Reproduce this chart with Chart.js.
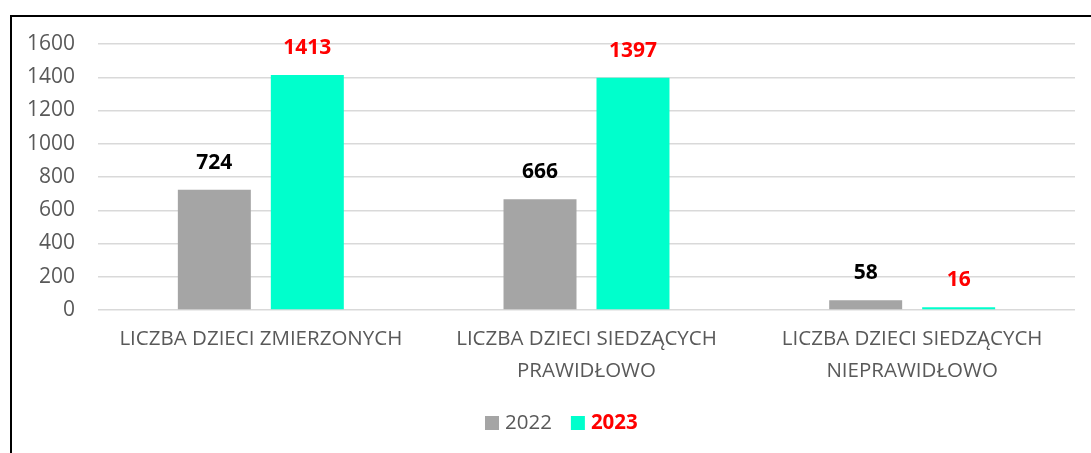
<!DOCTYPE html>
<html lang="pl">
<head>
  <meta charset="UTF-8" />
  <title>Foteliki</title>
  <script src="https://cdn.jsdelivr.net/npm/chart.js"></script>
  <style>
    html, body { margin: 0; padding: 0; background: #fff; overflow: hidden; }
    .wrap { position: relative; width: 1091px; height: 453px; }
    .frame { position: absolute; left: 10px; top: 15px; width: 1200px; height: 600px; border: 2px solid #000; box-sizing: border-box; }
    canvas { position: absolute; left: 0; top: 0; }
  </style>
</head>
<body>
  <div class="wrap">
    <div class="frame"></div>
    <canvas id="chart" width="1091" height="453"></canvas>
  </div>

  <script>
    const categories = [
      'LICZBA DZIECI ZMIERZONYCH',
      ['LICZBA DZIECI SIEDZĄCYCH', 'PRAWIDŁOWO'],
      ['LICZBA DZIECI SIEDZĄCYCH', 'NIEPRAWIDŁOWO']
    ];
    const years = ['2022', '2023'];
    const values2022 = [724, 666, 58];
    const values2023 = [1413, 1397, 16];
    const yTicks = [0, 200, 400, 600, 800, 1000, 1200, 1400, 1600];

    const FONT = "'Open Sans', 'Noto Sans', sans-serif";
    const barColors = ['#a5a5a5', '#00ffcc'];
    const labelColors = ['#000000', '#ff0000'];

    // value labels above the bars
    const valueLabels = {
      id: 'valueLabels',
      afterDatasetsDraw(chart) {
        const ctx = chart.ctx;
        ctx.save();
        ctx.font = 'bold 21px ' + FONT;
        ctx.textAlign = 'center';
        ctx.textBaseline = 'middle';
        chart.data.datasets.forEach((ds, i) => {
          ctx.fillStyle = labelColors[i];
          chart.getDatasetMeta(i).data.forEach((bar, j) => {
            ctx.fillText(ds.data[j], bar.x, bar.y - 27);
          });
        });
        ctx.restore();
      }
    };

    // legend like the original: second entry bold red
    const customLegend = {
      id: 'customLegend',
      afterDraw(chart) {
        const ctx = chart.ctx;
        ctx.save();
        ctx.textBaseline = 'middle';
        ctx.textAlign = 'left';
        let x = 485;
        const y = 423;
        chart.data.datasets.forEach((ds, i) => {
          ctx.fillStyle = barColors[i];
          ctx.fillRect(x, y - 7, 14, 14);
          x += 20;
          ctx.font = (i === 1 ? 'bold ' : '') + '20.5px ' + FONT;
          ctx.fillStyle = i === 1 ? '#ff0000' : '#595959';
          ctx.fillText(ds.label, x, y);
          x += ctx.measureText(ds.label).width + 19;
        });
        ctx.restore();
      }
    };

    new Chart(document.getElementById('chart'), {
      type: 'bar',
      data: {
        labels: categories,
        datasets: [
          { label: years[0], data: values2022, backgroundColor: barColors[0] },
          { label: years[1], data: values2023, backgroundColor: barColors[1] }
        ]
      },
      options: {
        responsive: false,
        animation: false,
        events: [],
        categoryPercentage: 0.571,
        barPercentage: 0.785,
        layout: { padding: { top: 44, right: 16, left: 0, bottom: 0 } },
        plugins: {
          legend: { display: false },
          tooltip: { enabled: false }
        },
        scales: {
          x: {
            grid: { display: false, drawTicks: false },
            border: { display: false },
            ticks: {
              padding: 13,
              color: '#595959',
              font: { family: FONT, size: 20.5, lineHeight: 1.56 },
              maxRotation: 0,
              autoSkip: false
            },
            afterFit(axis) { axis.height = 143; }
          },
          y: {
            min: 0,
            max: 1600,
            afterBuildTicks(axis) { axis.ticks = yTicks.map(v => ({ value: v })); },
            grid: { color: '#d9d9d9', lineWidth: 1.5, drawTicks: false },
            border: { display: false },
            ticks: {
              padding: 23,
              color: '#595959',
              font: { family: FONT, size: 21 },
              callback: value => String(value)
            },
            afterFit(axis) { axis.width = 98; }
          }
        }
      },
      plugins: [valueLabels, customLegend]
    });
  </script>
</body>
</html>
